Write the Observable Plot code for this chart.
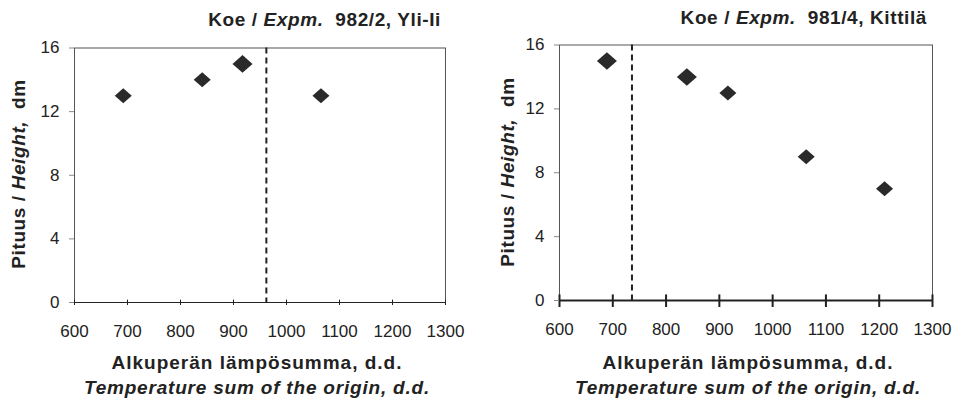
<!DOCTYPE html>
<html><head><meta charset="utf-8">
<script src="https://cdn.jsdelivr.net/npm/d3@7"></script>
<script src="https://cdn.jsdelivr.net/npm/@observablehq/plot@0.6"></script>
<style>
body{margin:0;background:#fff;}
#wrap{position:relative;width:964px;height:401px;display:flex;}
svg{font-family:"Liberation Sans",Arial,sans-serif;}
</style></head><body><div id="wrap"></div>
<script>
// ---- data ----
const xTicks = [600,700,800,900,1000,1100,1200,1300];
const yTicks = [0,4,8,12,16];
const leftX = [692, 841, 917, 1065];
const leftY = [13, 14, 15, 13];
const leftBig = [false, false, true, false];
const leftThreshold = 962;
const leftTitle = ["Koe / ", "Expm.", "  982/2, Yli-Ii"];
const rightX = [689, 839, 916, 1063, 1210];
const rightY = [15, 14, 13, 9, 7];
const rightBig = [true, true, false, false, false];
const rightThreshold = 736;
const rightTitle = ["Koe / ", "Expm.", "  981/4, Kittilä"];
const yLabel = ["Pituus / ", "Height,", "  dm"];
const xLabel1 = "Alkuperän lämpösumma, d.d.";
const xLabel2 = "Temperature sum of the origin, d.d.";

// a diamond slightly wider than tall, as in the original
const wideDiamond = {
  draw(context, size) {
    const r = Math.sqrt(size / Math.PI);
    const h = r * 0.88;
    context.moveTo(0, -h); context.lineTo(r, 0); context.lineTo(0, h); context.lineTo(-r, 0); context.closePath();
  }
};

function chart(cfg){
  const pts = cfg.x.map((x,i)=>({x, y: cfg.y[i], big: cfg.big[i]}));
  const svg = Plot.plot({
    width: 482, height: 401,
    marginLeft: cfg.ml, marginRight: cfg.mr, marginTop: cfg.mt, marginBottom: cfg.mb,
    style: {fontFamily: '"Liberation Sans", Arial, sans-serif', fontSize: "17px", color: "#222", background: "#fff"},
    x: {domain: [600,1300]},
    y: {domain: [0,16]},
    r: {type: "identity"},
    marks: [
      Plot.frame({stroke: "#555", strokeWidth: 1}),
      Plot.ruleY([0], {stroke: "#222", strokeWidth: cfg.axisW}),
      Plot.ruleX(xTicks, {x: d=>d, y1: 0, y2: cfg.tickIn, stroke: "#222", strokeWidth: cfg.axisW}),
      Plot.axisX({ticks: xTicks, tickSize: cfg.tickOut, tickPadding: 22 - cfg.tickOut, tickFormat: d=>String(d), stroke: "#222", strokeWidth: cfg.axisW, label: null, fill: "#222", fontSize: 17}),
      Plot.axisY({ticks: yTicks, tickSize: 5, tickPadding: 10, stroke: "#888", label: null, fill: "#222", fontSize: 17}),
      Plot.ruleX([cfg.threshold], {stroke: "#222", strokeWidth: 2, strokeDasharray: "6,4"}),
      Plot.dot(pts, {x: "x", y: "y", symbol: wideDiamond, r: d => d.big ? 10 : 8.5, fill: "#2a2a2a", stroke: "none"})
    ]
  });
  const s = d3.select(svg);
  // enlarge the tick labels
  s.selectAll('g[aria-label$="tick label"]').attr("font-size", 17).style("font-size", "17px");
  s.selectAll('g[aria-label$="tick label"] text').attr("font-size", 17).style("font-size", "17px");
  const t = s.append("text").attr("x", cfg.titleX).attr("y", cfg.titleY).attr("text-anchor","end")
    .attr("font-weight","bold").attr("font-size","19px").attr("fill","#222")
    .attr("letter-spacing","0.6px").style("white-space","pre");
  cfg.title.forEach((p,i)=> t.append("tspan").text(p).attr("font-style", i===1?"italic":"normal"));
  const yl = s.append("text").attr("transform",`translate(${cfg.ylX},${cfg.ylY}) rotate(-90)`).attr("text-anchor","middle")
    .attr("font-weight","bold").attr("font-size","19px").attr("letter-spacing","0.6px").attr("fill","#222").style("white-space","pre");
  yLabel.forEach((p,i)=> yl.append("tspan").text(p).attr("font-style", i===1?"italic":"normal"));
  s.append("text").attr("x", cfg.xlX).attr("y", 369).attr("text-anchor","middle").attr("font-weight","bold")
    .attr("font-size","19px").attr("letter-spacing","1px").attr("fill","#222").text(xLabel1);
  s.append("text").attr("x", cfg.xlX).attr("y", 394).attr("text-anchor","middle").attr("font-weight","bold").attr("font-style","italic")
    .attr("font-size","19px").attr("letter-spacing","0.8px").attr("fill","#222").text(xLabel2);
  return svg;
}
const wrap = document.getElementById("wrap");
wrap.appendChild(chart({x: leftX, y: leftY, big: leftBig, threshold: leftThreshold, title: leftTitle,
  ml: 74, mr: 37, mt: 47.5, mb: 99, axisW: 1, tickIn: 0.15, tickOut: 3,
  titleX: 441, titleY: 26, ylX: 25, ylY: 174, xlX: 257}));
wrap.appendChild(chart({x: rightX, y: rightY, big: rightBig, threshold: rightThreshold, title: rightTitle,
  ml: 77, mr: 32, mt: 44.5, mb: 101, axisW: 2, tickIn: 0.35, tickOut: 7,
  titleX: 445, titleY: 24, ylX: 32, ylY: 172, xlX: 266}));
</script></body></html>
